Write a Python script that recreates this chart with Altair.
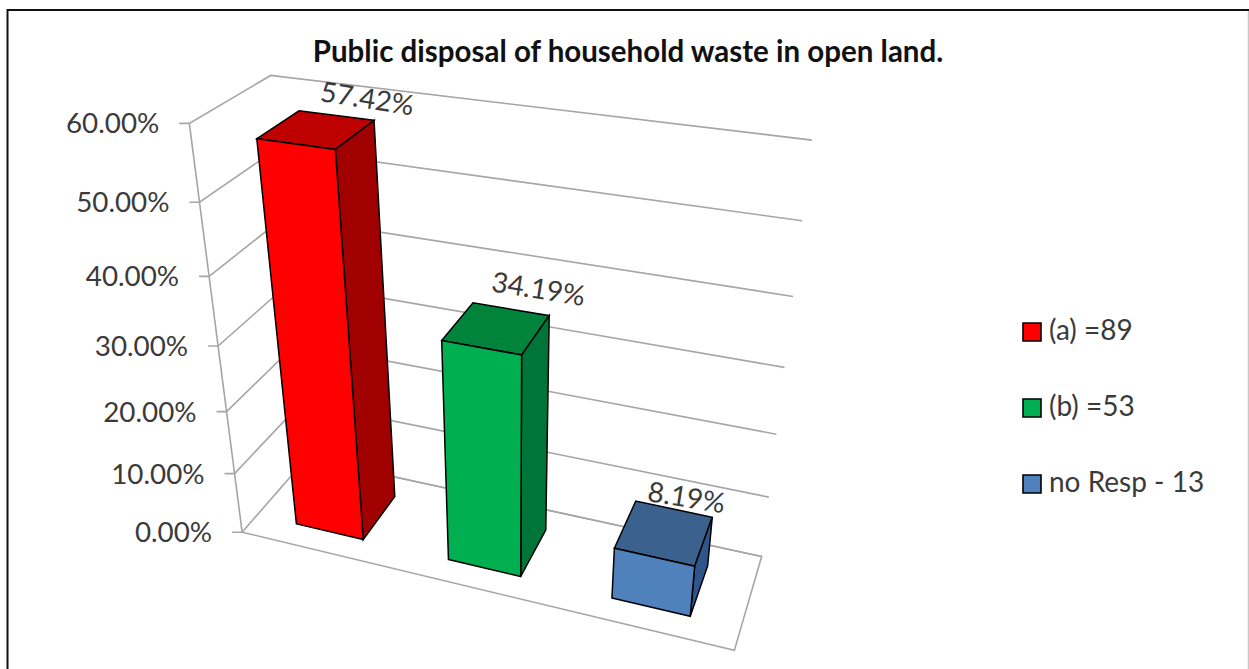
import altair as alt
import numpy as np

W, H = 1249, 669

# Chart content
TITLE = "Public disposal of household waste in open land."
SERIES = ["(a) =89", "(b) =53", "no Resp - 13"]
VALUES = [57.42, 34.19, 8.19]
TICKS = [0, 10, 20, 30, 40, 50, 60]

# Face colours per series
FRONT = ["#FF0000", "#00B050", "#4F81BD"]
TOP = ["#BF0000", "#00843C", "#3B618E"]
SIDE = ["#A00000", "#00753A", "#30558A"]

# Footprint of each column on the floor (fraction of the floor's width and depth)
U_RANGE = [(0.090, 0.240), (0.424, 0.574), (0.756, 0.906)]
V_RANGE = (0.220, 0.770)

# Offset of each value label from the back right corner of its column's top
LABEL_OFFSET = [(-7, -20), (-11, -25), (-26, -18)]
LABEL_ANGLE = 9

# Camera: where the corners of the plot box land on the page
BOX = [(0, 0, 0), (1, 0, 0), (0, 1, 0), (1, 1, 0), (0, 0, 60), (0, 1, 60), (1, 1, 60)]
PAGE = [(241, 532), (735, 650), (308, 458), (761, 557), (190, 124), (270, 75), (812, 140)]


def camera_matrix():
    rows, rhs = [], []
    for (u, v, w), (x, y) in zip(BOX, PAGE):
        rows.append([u, v, w, 1, 0, 0, 0, 0, -x * u, -x * v, -x * w])
        rhs.append(x)
        rows.append([0, 0, 0, 0, u, v, w, 1, -y * u, -y * v, -y * w])
        rhs.append(y)
    sol = np.linalg.lstsq(np.array(rows, float), np.array(rhs, float), rcond=None)[0]
    return np.append(sol, 1).reshape(3, 4)


CAM = camera_matrix()


def project(u, v, w):
    q = CAM @ np.array([u, v, w, 1.0])
    return [float(q[0] / q[2]), float(q[1] / q[2])]


def polygon(points, **props):
    ring = list(points) + [points[0]]
    return {"type": "Feature", "geometry": {"type": "Polygon", "coordinates": [ring]},
            "properties": {}, **props}


def polyline(points, **props):
    return {"type": "Feature", "geometry": {"type": "LineString", "coordinates": list(points)},
            "properties": {}, **props}


# Gridlines climbing the left wall and running along the back wall
grid_lines = []
for t in TICKS:
    front = project(0, 0, t)
    grid_lines.append(polyline([[front[0] - 10, front[1]], front, project(0, 1, t), project(1, 1, t)]))
grid_lines.append(polyline([project(0, 0, 0), project(0, 0, 60)]))
grid_lines.append(polyline([project(0, 0, 0), project(1, 0, 0), project(1, 1, 0), project(0, 1, 0)]))

# Three visible faces of each column
top_side_faces, front_faces, value_labels = [], [], []
for i, value in enumerate(VALUES):
    u0, u1 = U_RANGE[i]
    v0, v1 = V_RANGE
    top_side_faces.append(polygon(
        [project(u0, v0, value), project(u1, v0, value), project(u1, v1, value), project(u0, v1, value)],
        fill=TOP[i]))
    top_side_faces.append(polygon(
        [project(u1, v0, 0), project(u1, v1, 0), project(u1, v1, value), project(u1, v0, value)],
        fill=SIDE[i]))
    front_faces.append(polygon(
        [project(u0, v0, 0), project(u1, v0, 0), project(u1, v0, value), project(u0, v0, value)],
        series=SERIES[i]))
    corner = project(u1, v1, value)
    value_labels.append({"label": f"{value:.2f}%",
                         "px": corner[0] + LABEL_OFFSET[i][0],
                         "py": corner[1] + LABEL_OFFSET[i][1]})

tick_labels = []
for t in TICKS:
    x, y = project(0, 0, t)
    tick_labels.append({"label": f"{t:.2f}%", "px": x - 30, "py": y + 2})

X = alt.X("px:Q", scale=alt.Scale(domain=[0, W], range=[0, W]), axis=None)
Y = alt.Y("py:Q", scale=alt.Scale(domain=[0, H], range=[0, H]), axis=None)

page = (alt.Chart(alt.Data(values=[polygon([[0, 0], [W, 0], [W, H], [0, H]])]))
        .mark_geoshape(fill="white", strokeWidth=0)
        .project(type="identity"))

frame_dark = (alt.Chart(alt.Data(values=[polyline([[7.5, H], [7.5, 10], [W, 10]])]))
              .mark_geoshape(filled=False, stroke="#111111", strokeWidth=2)
              .project(type="identity"))
frame_light = (alt.Chart(alt.Data(values=[polyline([[1248.5, 11], [1248.5, H]])]))
               .mark_geoshape(filled=False, stroke="#C8C8C8", strokeWidth=1.5)
               .project(type="identity"))

grid = (alt.Chart(alt.Data(values=grid_lines))
        .mark_geoshape(filled=False, stroke="#A6A6A6", strokeWidth=1.6)
        .project(type="identity"))

shaded = (alt.Chart(alt.Data(values=top_side_faces))
          .mark_geoshape(stroke="#000000", strokeWidth=1.5)
          .encode(fill=alt.Fill("fill:N", scale=None))
          .project(type="identity"))

fronts = (alt.Chart(alt.Data(values=front_faces))
          .mark_geoshape(stroke="#000000", strokeWidth=1.5)
          .encode(fill=alt.Fill(
              "series:N",
              scale=alt.Scale(domain=SERIES, range=FRONT),
              legend=alt.Legend(
                  title=None, orient="none", legendX=1018, legendY=318,
                  symbolType="square", symbolSize=324,
                  symbolStrokeColor="#1A1A1A", symbolStrokeWidth=1.6,
                  labelFont="Lato", labelFontSize=28, labelColor="#3A3A3A",
                  labelLimit=300, labelOffset=3, rowPadding=48,
              )))
          .project(type="identity"))

axis_text = (alt.Chart(alt.Data(values=tick_labels))
             .mark_text(font="Lato", fontSize=27.8, color="#3A3A3A", align="right", baseline="middle")
             .encode(x=X, y=Y, text="label:N"))

value_text = (alt.Chart(alt.Data(values=value_labels))
              .mark_text(font="Lato", fontSize=28, color="#3A3A3A", align="center",
                         baseline="middle", angle=LABEL_ANGLE)
              .encode(x=X, y=Y, text="label:N"))

chart = (
    alt.layer(page, frame_dark, frame_light, grid, shaded, fronts, axis_text, value_text)
    .properties(
        width=W, height=H, padding=0,
        autosize=alt.AutoSizeParams(type="none"),
        title=alt.TitleParams(TITLE, font="Lato", fontSize=29.5, fontWeight="bold", color="#111111",
                              anchor="middle", dx=3.5, dy=72),
    )
    .configure_view(stroke=None)
)

chart.save("out.html", embed_options={"renderer": "svg", "actions": False})
